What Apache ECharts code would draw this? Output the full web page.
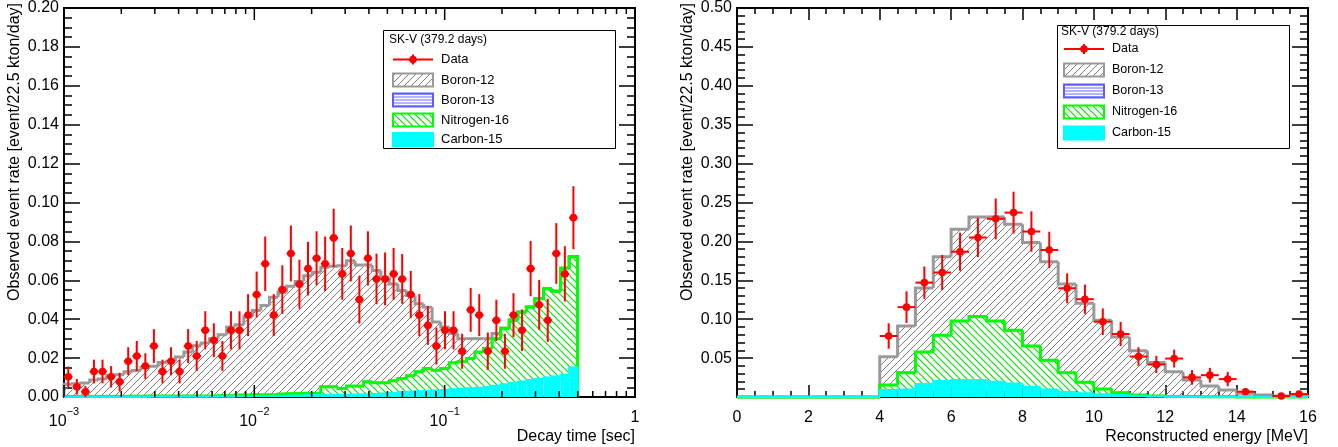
<!DOCTYPE html>
<html>
<head>
<meta charset="utf-8">
<script src="https://cdn.jsdelivr.net/npm/echarts@6/dist/echarts.min.js"></script>
<style>
html,body{margin:0;padding:0;background:#fff;}
#chart{width:1338px;height:447px;}
</style>
</head>
<body>
<div id="chart"></div>
<script>
// ================= DATA =================
// Left panel: decay time, 60 logarithmic bins from 1e-3 s to 0.5 s
const timeMin = 0.001;
const timeMax = 0.5;
const timeBinCount = 60;
const timeData = [
  0.0104, 0.0053, 0.0027, 0.0131, 0.0131, 0.0104, 0.0078, 0.0184, 0.0211, 0.0159,
  0.0262, 0.0131, 0.0184, 0.0131, 0.0262, 0.0211, 0.0343, 0.0292, 0.0211, 0.0343,
  0.0343, 0.0421, 0.0527, 0.0685, 0.0421, 0.0552, 0.0738, 0.0580, 0.0660, 0.0713,
  0.0685, 0.0818, 0.0633, 0.0738, 0.0501, 0.0713, 0.0607, 0.0607, 0.0633, 0.0607,
  0.0527, 0.0421, 0.0368, 0.0262, 0.0343, 0.0343, 0.0235, 0.0448, 0.0421, 0.0235,
  0.0394, 0.0235, 0.0421, 0.0343, 0.0660, 0.0474, 0.0394, 0.0738, 0.0633, 0.0922
];
const timeErr = [
  0.0053, 0.0040, 0.0030, 0.0061, 0.0061, 0.0055, 0.0047, 0.0072, 0.0077, 0.0066,
  0.0087, 0.0061, 0.0072, 0.0061, 0.0087, 0.0077, 0.0098, 0.0087, 0.0077, 0.0098,
  0.0098, 0.0108, 0.0118, 0.0140, 0.0108, 0.0125, 0.0144, 0.0126, 0.0138, 0.0139,
  0.0140, 0.0150, 0.0133, 0.0144, 0.0123, 0.0139, 0.0130, 0.0136, 0.0133, 0.0128,
  0.0121, 0.0108, 0.0100, 0.0095, 0.0098, 0.0098, 0.0090, 0.0113, 0.0108, 0.0096,
  0.0106, 0.0090, 0.0113, 0.0107, 0.0142, 0.0128, 0.0111, 0.0156, 0.0142, 0.0162
];
const timeB12 = [
  0.0063, 0.0065, 0.0069, 0.0085, 0.0089, 0.0107, 0.0111, 0.0127, 0.0132, 0.0148,
  0.0153, 0.0173, 0.0179, 0.0201, 0.0227, 0.0258, 0.0273, 0.0295, 0.0314, 0.0354,
  0.0362, 0.0401, 0.0434, 0.0459, 0.0501, 0.0523, 0.0552, 0.0576, 0.0604, 0.0622,
  0.0614, 0.0619, 0.0631, 0.0645, 0.0623, 0.0601, 0.0577, 0.0543, 0.0497, 0.0452,
  0.0413, 0.0349, 0.0315, 0.0247, 0.0213, 0.0150, 0.0119, 0.0102, 0.0068, 0.0051,
  0.0026, 0.0004, 0.0003, 0.0002, 0.0002, 0.0002, 0.0001, 0.0001, 0.0001, 0.0001
];
const timeB13 = [
  0, 0, 0, 0, 0, 0, 0, 0, 0, 0,
  0, 0, 0, 0, 0, 0, 0, 0, 0, 0,
  0, 0, 0, 0, 0, 0, 0, 0, 0, 0,
  0, 0, 0, 0, 0, 0, 0, 0, 0, 0,
  0, 0, 0, 0, 0, 0, 0, 0, 0, 0,
  0, 0, 0, 0, 0, 0, 0, 0, 0, 0
];
const timeN16 = [
  0.0002, 0.0002, 0.0002, 0.0002, 0.0002, 0.0002, 0.0002, 0.0002, 0.0003, 0.0003,
  0.0003, 0.0003, 0.0003, 0.0003, 0.0003, 0.0003, 0.0003, 0.0003, 0.0004, 0.0004,
  0.0006, 0.0006, 0.0006, 0.0006, 0.0006, 0.0010, 0.0010, 0.0010, 0.0010, 0.0010,
  0.0043, 0.0043, 0.0033, 0.0044, 0.0043, 0.0064, 0.0057, 0.0055, 0.0063, 0.0071,
  0.0082, 0.0101, 0.0116, 0.0105, 0.0111, 0.0136, 0.0138, 0.0153, 0.0184, 0.0197,
  0.0242, 0.0285, 0.0322, 0.0356, 0.0375, 0.0412, 0.0456, 0.0438, 0.0547, 0.0569
];
const timeC15 = [
  0.0001, 0.0001, 0.0001, 0.0001, 0.0001, 0.0001, 0.0001, 0.0001, 0.0001, 0.0001,
  0.0002, 0.0002, 0.0002, 0.0002, 0.0002, 0.0002, 0.0002, 0.0002, 0.0002, 0.0002,
  0.0004, 0.0004, 0.0005, 0.0005, 0.0006, 0.0006, 0.0007, 0.0008, 0.0009, 0.0009,
  0.0010, 0.0010, 0.0011, 0.0012, 0.0013, 0.0014, 0.0016, 0.0018, 0.0021, 0.0024,
  0.0027, 0.0029, 0.0031, 0.0033, 0.0036, 0.0040, 0.0043, 0.0045, 0.0048, 0.0052,
  0.0058, 0.0066, 0.0072, 0.0080, 0.0087, 0.0093, 0.0100, 0.0106, 0.0115, 0.0152
];

// Right panel: reconstructed energy, 0.5 MeV bins from 0 to 16 MeV
const energyEdges = [
  0, 0.5, 1, 1.5, 2, 2.5, 3, 3.5, 4, 4.5, 5, 5.5, 6, 6.5, 7, 7.5, 8,
  8.5, 9, 9.5, 10, 10.5, 11, 11.5, 12, 12.5, 13, 13.5, 14, 14.5, 15, 15.5, 16
];
const energyData = [
  null, null, null, null, null, null, null, null,
  0.0784, 0.1155, 0.1470, 0.1600, 0.1867, 0.2050, 0.2290, 0.2370,
  0.2127, 0.1890, 0.1398, 0.1257, 0.0968, 0.0810, 0.0520, 0.0418,
  0.0494, 0.0252, 0.0281, 0.0230, 0.0068, null, 0.0013, 0.0038
];
const energyErr = [
  null, null, null, null, null, null, null, null,
  0.0164, 0.0203, 0.0207, 0.0226, 0.0245, 0.0252, 0.0262, 0.0269,
  0.0260, 0.0234, 0.0192, 0.0188, 0.0171, 0.0156, 0.0119, 0.0111,
  0.0115, 0.0094, 0.0094, 0.0092, 0.0043, null, 0.0020, 0.0036
];
const energyB12 = [
  0, 0, 0, 0, 0, 0, 0, 0,
  0.0363, 0.0601, 0.0822, 0.1010, 0.1181, 0.1279, 0.1339, 0.1364,
  0.1330, 0.1266, 0.1143, 0.1018, 0.0883, 0.0716, 0.0568, 0.0432,
  0.0316, 0.0212, 0.0138, 0.0088, 0.0046, 0.0026, 0.0013, 0.0010
];
const energyB13 = [
  0, 0, 0, 0, 0, 0, 0, 0,
  0, 0, 0, 0, 0, 0, 0, 0,
  0, 0, 0, 0, 0, 0, 0, 0,
  0, 0, 0, 0, 0, 0, 0, 0
];
const energyN16 = [
  0, 0, 0, 0, 0, 0, 0, 0,
  0.0063, 0.0213, 0.0414, 0.0588, 0.0759, 0.0819, 0.0780, 0.0682,
  0.0524, 0.0375, 0.0247, 0.0141, 0.0068, 0.0030, 0.0011, 0.0003,
  0.0002, 0.0001, 0.0001, 0.0001, 0, 0, 0, 0
];
const energyC15 = [
  0, 0, 0, 0, 0, 0, 0, 0,
  0.0090, 0.0098, 0.0166, 0.0205, 0.0217, 0.0217, 0.0196, 0.0175,
  0.0132, 0.0098, 0.0064, 0.0047, 0.0034, 0.0025, 0.0015, 0.0010,
  0.0006, 0.0004, 0.0002, 0.0001, 0.0001, 0, 0, 0
];

const legendTitle = 'SK-V (379.2 days)';
const legendLabels = ['Data', 'Boron-12', 'Boron-13', 'Nitrogen-16', 'Carbon-15'];
const yTitle = 'Observed event rate [event/22.5 kton/day]';
const xTitleLeft = 'Decay time [sec]';
const xTitleRight = 'Reconstructed energy [MeV]';

// ================= BUILD =================
const FONT = '"Liberation Sans", Arial, Helvetica, sans-serif';
const timeEdges = [];
for (let i = 0; i <= timeBinCount; i++) timeEdges.push(timeMin * Math.pow(timeMax / timeMin, i / timeBinCount));

function hatch(color, dir, size, lw) {
  const c = document.createElement('canvas');
  c.width = size; c.height = size;
  const g = c.getContext('2d');
  g.strokeStyle = color; g.lineWidth = lw;
  g.beginPath();
  if (dir > 0) {
    g.moveTo(-1, size + 1); g.lineTo(size + 1, -1);
    g.moveTo(-1, 1); g.lineTo(1, -1);
    g.moveTo(size - 1, size + 1); g.lineTo(size + 1, size - 1);
  } else {
    g.moveTo(-1, -1); g.lineTo(size + 1, size + 1);
    g.moveTo(size - 1, -1); g.lineTo(size + 1, 1);
    g.moveTo(-1, size - 1); g.lineTo(1, size + 1);
  }
  g.stroke();
  return { image: c, repeat: 'repeat' };
}
function hLines(color, size, lw) {
  const c = document.createElement('canvas');
  c.width = size; c.height = size;
  const g = c.getContext('2d');
  g.strokeStyle = color; g.lineWidth = lw;
  g.beginPath(); g.moveTo(0, 1); g.lineTo(size, 1); g.stroke();
  return { image: c, repeat: 'repeat' };
}
const grayHatch = hatch('#7c7c7c', 1, 7, 1);
const greenHatch = hatch('#00e600', -1, 7, 1.2);
const blueLines = hLines('#6a6aff', 3, 1);

const GRAY = '#999999', GREEN = '#00ff00', CYAN = '#00ffff', BLUE = '#5c5cff', RED = '#ff0000';

function stack(comps) { // bottom -> top
  let lower = comps[0].map(() => 0);
  return comps.map(c => {
    const upper = lower.map((l, i) => l + c[i]);
    const b = { lower, upper };
    lower = upper;
    return b;
  });
}
function bandItems(edges, band) {
  const n = edges.length - 1, items = [];
  for (let i = 0; i < n; i++) {
    items.push([edges[i], edges[i + 1], band.lower[i], band.upper[i], i > 0 ? band.upper[i - 1] : 0, i === n - 1 ? 1 : 0]);
  }
  return items;
}
function bandSeries(gridIdx, edges, band, fill, stroke, lw) {
  return {
    type: 'custom', xAxisIndex: gridIdx * 2, yAxisIndex: gridIdx * 2, silent: true,
    data: bandItems(edges, band),
    renderItem: function (params, api) {
      const x0 = api.value(0), x1 = api.value(1), lo = api.value(2), hi = api.value(3), prev = api.value(4), last = api.value(5);
      const children = [];
      if (fill && hi > lo) {
        children.push({ type: 'polygon', shape: { points: [api.coord([x0, lo]), api.coord([x1, lo]), api.coord([x1, hi]), api.coord([x0, hi])] }, style: { fill: fill } });
      }
      const pts = [api.coord([x0, prev]), api.coord([x0, hi]), api.coord([x1, hi])];
      if (last) pts.push(api.coord([x1, 0]));
      children.push({ type: 'polyline', shape: { points: pts }, style: { stroke: stroke, lineWidth: lw, fill: null } });
      return { type: 'group', children: children };
    }
  };
}
function dataItems(edges, vals, errs, logCenter) {
  const items = [];
  for (let i = 0; i < vals.length; i++) {
    if (vals[i] == null) continue;
    const c = logCenter ? Math.sqrt(edges[i] * edges[i + 1]) : (edges[i] + edges[i + 1]) / 2;
    items.push([edges[i], edges[i + 1], c, vals[i], errs[i]]);
  }
  return items;
}
function dataSeries(gridIdx, items) {
  return {
    type: 'custom', xAxisIndex: gridIdx * 2, yAxisIndex: gridIdx * 2, silent: true, z: 5,
    data: items,
    renderItem: function (params, api) {
      const x0 = api.value(0), x1 = api.value(1), xc = api.value(2), v = api.value(3), e = api.value(4);
      const pl = api.coord([x0, v]), pr = api.coord([x1, v]), pc = api.coord([xc, v]);
      const pt = api.coord([xc, v + e]), pb = api.coord([xc, Math.max(v - e, 0)]);
      return { type: 'group', children: [
        { type: 'line', shape: { x1: pl[0], y1: pl[1], x2: pr[0], y2: pr[1] }, style: { stroke: RED, lineWidth: 2 } },
        { type: 'line', shape: { x1: pt[0], y1: pt[1], x2: pb[0], y2: pb[1] }, style: { stroke: RED, lineWidth: 2 } },
        { type: 'circle', shape: { cx: pc[0], cy: pc[1], r: 3.8 }, style: { fill: RED } }
      ] };
    }
  };
}

// log axis ticks (decades + 2..9 sub-ticks) for the decay-time panel
const logTicks = [];
for (let d = -3; d <= 0; d++) {
  for (let m = 1; m <= 9; m++) {
    const v = m * Math.pow(10, d);
    if (v > 1.0000001) break;
    logTicks.push([v, m === 1 ? 1 : 0]);
  }
}
const tickSeries = {
  type: 'custom', xAxisIndex: 0, yAxisIndex: 0, silent: true, z: 6,
  data: logTicks,
  renderItem: function (params, api) {
    const v = api.value(0), major = api.value(1);
    const b = api.coord([v, 0]), t = api.coord([v, 0.2]);
    const L = major ? 12 : 6;
    return { type: 'group', children: [
      { type: 'line', shape: { x1: b[0], y1: b[1], x2: b[0], y2: b[1] - L }, style: { stroke: '#000', lineWidth: 1.5 } },
      { type: 'line', shape: { x1: t[0], y1: t[1], x2: t[0], y2: t[1] + L }, style: { stroke: '#000', lineWidth: 1.5 } }
    ] };
  }
};

const tBands = stack([timeC15, timeN16, timeB13, timeB12]);
const eBands = stack([energyC15, energyN16, energyB13, energyB12]);

const axisLine = { show: true, onZero: false, lineStyle: { color: '#000', width: 2 } };
const labelStyle = { fontSize: 16, fontFamily: FONT, color: '#000' };

function yAxes(gridIdx, max, interval, minor) {
  const base = {
    type: 'value', gridIndex: gridIdx, min: 0, max: max, interval: interval,
    axisLine: axisLine, splitLine: { show: false },
    axisTick: { show: true, inside: true, length: 16, lineStyle: { color: '#000', width: 1.5 } },
    minorTick: { show: true, splitNumber: minor, length: 8, lineStyle: { color: '#000', width: 1.5 } }
  };
  return [
    Object.assign({}, base, { position: 'left', axisLabel: Object.assign({ margin: 5, formatter: v => v.toFixed(2), showMinLabel: gridIdx === 0 }, labelStyle) }),
    Object.assign({}, base, { position: 'right', axisLabel: { show: false } })
  ];
}

const logLabelRich = {
  b: { fontSize: 16, fontFamily: FONT, color: '#000', verticalAlign: 'bottom', lineHeight: 24 },
  s: { fontSize: 11, fontFamily: FONT, color: '#000', verticalAlign: 'top', lineHeight: 24 },
  one: { fontSize: 16, fontFamily: FONT, color: '#000', verticalAlign: 'middle', lineHeight: 24 }
};

const option = {
  animation: false,
  backgroundColor: '#fff',
  grid: [
    { left: 64, right: 703, top: 6, bottom: 50 },
    { left: 737, right: 30, top: 6, bottom: 50 }
  ],
  xAxis: [
    { type: 'log', logBase: 10, gridIndex: 0, min: 0.001, max: 1, position: 'bottom',
      axisLine: axisLine, axisTick: { show: false }, splitLine: { show: false },
      axisLabel: { margin: 9, formatter: function (v) {
        const e = Math.round(Math.log10(v));
        return e === 0 ? '{one|1}' : '{b|10}{s|\u2212' + (-e) + '}';
      }, rich: logLabelRich } },
    { type: 'log', logBase: 10, gridIndex: 0, min: 0.001, max: 1, position: 'top',
      axisLine: axisLine, axisTick: { show: false }, splitLine: { show: false }, axisLabel: { show: false } },
    { type: 'value', gridIndex: 1, min: 0, max: 16, interval: 2, position: 'bottom',
      axisLine: axisLine, splitLine: { show: false },
      axisTick: { show: true, inside: true, length: 12, lineStyle: { color: '#000', width: 1.5 } },
      minorTick: { show: true, splitNumber: 4, length: 6, lineStyle: { color: '#000', width: 1.5 } },
      axisLabel: Object.assign({ margin: 13 }, labelStyle) },
    { type: 'value', gridIndex: 1, min: 0, max: 16, interval: 2, position: 'top',
      axisLine: axisLine, splitLine: { show: false },
      axisTick: { show: true, inside: true, length: 12, lineStyle: { color: '#000', width: 1.5 } },
      minorTick: { show: true, splitNumber: 4, length: 6, lineStyle: { color: '#000', width: 1.5 } },
      axisLabel: { show: false } }
  ],
  yAxis: yAxes(0, 0.2, 0.02, 4).concat(yAxes(1, 0.5, 0.05, 5)),
  series: [
    bandSeries(0, timeEdges, tBands[3], grayHatch, GRAY, 3),
    bandSeries(0, timeEdges, tBands[2], blueLines, BLUE, 2),
    bandSeries(0, timeEdges, tBands[1], greenHatch, GREEN, 3),
    bandSeries(0, timeEdges, tBands[0], CYAN, CYAN, 2),
    tickSeries,
    dataSeries(0, dataItems(timeEdges, timeData, timeErr, true)),
    bandSeries(1, energyEdges, eBands[3], grayHatch, GRAY, 3),
    bandSeries(1, energyEdges, eBands[2], blueLines, BLUE, 2),
    bandSeries(1, energyEdges, eBands[1], greenHatch, GREEN, 3),
    bandSeries(1, energyEdges, eBands[0], CYAN, CYAN, 2),
    dataSeries(1, dataItems(energyEdges, energyData, energyErr, false))
  ],
  graphic: { elements: [] }
};

// --- axis titles ---
function txt(x, y, text, size, align, vAlign, rot) {
  return { type: 'text', x: x, y: y, rotation: rot || 0, z: 50, silent: true,
    style: { text: text, fontSize: size, fontFamily: FONT, fill: '#000', align: align, verticalAlign: vAlign, textAlign: align, textVerticalAlign: vAlign } };
}
const G = option.graphic.elements;
G.push(txt(15, 3, yTitle, 16, 'right', 'middle', Math.PI / 2));
G.push(txt(688, 3, yTitle, 16, 'right', 'middle', Math.PI / 2));
G.push(txt(635, 437, xTitleLeft, 16, 'right', 'middle'));
G.push(txt(1308, 437, xTitleRight, 16, 'right', 'middle'));

// --- legends ---
const legendFills = [null, grayHatch, blueLines, greenHatch, CYAN];
const legendStrokes = [null, GRAY, BLUE, GREEN, CYAN];
function addLegend(c) {
  G.push({ type: 'rect', z: 60, silent: true, shape: { x: c.x + 0.5, y: c.y + 0.5, width: c.w, height: c.h }, style: { fill: '#fff', stroke: '#000', lineWidth: 1 } });
  G.push(Object.assign(txt(c.titleX, c.titleY, legendTitle, c.titleSize, 'left', 'middle'), { z: 61 }));
  c.rows.forEach(function (ry, i) {
    const ix = c.iconX, iw = c.iconW, ih = c.iconH;
    if (i === 0) {
      G.push({ type: 'line', z: 61, silent: true, shape: { x1: ix, y1: ry, x2: ix + iw, y2: ry }, style: { stroke: RED, lineWidth: 2 } });
      G.push({ type: 'line', z: 61, silent: true, shape: { x1: ix + iw / 2, y1: ry - 5, x2: ix + iw / 2, y2: ry + 5 }, style: { stroke: RED, lineWidth: 2 } });
      G.push({ type: 'circle', z: 61, silent: true, shape: { cx: ix + iw / 2, cy: ry, r: 3.8 }, style: { fill: RED } });
    } else {
      G.push({ type: 'rect', z: 61, silent: true, shape: { x: ix, y: ry - ih / 2, width: iw, height: ih }, style: { fill: legendFills[i], stroke: legendStrokes[i], lineWidth: 2 } });
    }
    G.push(Object.assign(txt(c.textX, ry, legendLabels[i], c.textSize, 'left', 'middle'), { z: 61 }));
  });
}
addLegend({ x: 383, y: 30, w: 232, h: 118, titleX: 389, titleY: 40, titleSize: 12,
  rows: [59.5, 80, 100, 120, 139.5], iconX: 393, iconW: 40, iconH: 13, textX: 441, textSize: 13 });
addLegend({ x: 1057, y: 25, w: 232, h: 123, titleX: 1061, titleY: 32, titleSize: 12,
  rows: [49, 70, 91, 112, 133], iconX: 1064, iconW: 40, iconH: 13, textX: 1112, textSize: 12.5 });

const chart = echarts.init(document.getElementById('chart'), null, { renderer: 'canvas' });
chart.setOption(option);
</script>
</body>
</html>
